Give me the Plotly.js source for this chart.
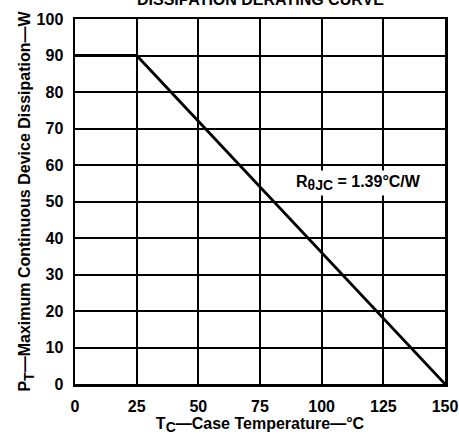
<!DOCTYPE html>
<html><head><meta charset="utf-8">
<script src="https://cdn.plot.ly/plotly-3.0.1.min.js"></script>
<style>html,body{margin:0;padding:0;background:#fff;}</style>
</head><body>
<div id="chart" style="width:459px;height:437px;"></div>
<script>
const caseTemp = [0, 25, 150];
const powerW = [90, 90, 0];
const xTicks = [0, 25, 50, 75, 100, 125, 150];
const yTicks = [0, 10, 20, 30, 40, 50, 60, 70, 80, 90, 100];
const chartTitle = "DISSIPATION DERATING CURVE";
const noteText = "R<sub><span style='font-size:14px'>θJC</span></sub> = 1.39°C/W";
const xTitle = "T<sub><span style='font-size:14px'>C</span></sub>—Case Temperature—°C";
const yTitle = "P<sub><span style='font-size:14px'>T</span></sub>—Maximum Continuous Device Dissipation—W";
const fontFam = "Liberation Sans, Arial, sans-serif";

const trace = {
  x: caseTemp, y: powerW, type: 'scatter', mode: 'lines',
  line: {color: '#000', width: 2.8}, hoverinfo: 'skip', showlegend: false
};

const layout = {
  width: 459, height: 437,
  margin: {l: 75, r: 14, t: 19, b: 53},
  paper_bgcolor: '#fff', plot_bgcolor: '#fff',
  font: {family: fontFam, color: '#000'},
  xaxis: {
    range: [0, 150], tickvals: xTicks, ticktext: xTicks.map(String),
    showgrid: true, gridcolor: '#000', gridwidth: 2,
    showline: true, linecolor: '#000', linewidth: 2.5, mirror: true,
    zeroline: false, ticks: '', ticklabelstandoff: 6,
    tickfont: {family: fontFam, size: 16, weight: 'bold'},
    title: {text: xTitle, standoff: 4,
      font: {family: fontFam, size: 16, weight: 'bold'}}
  },
  yaxis: {
    range: [0, 100], tickvals: yTicks, ticktext: yTicks.map(String),
    showgrid: true, gridcolor: '#000', gridwidth: 2,
    showline: true, linecolor: '#000', linewidth: 2.5, mirror: true,
    zeroline: false, ticks: '', ticklabelstandoff: 6,
    tickfont: {family: fontFam, size: 16, weight: 'bold'},
    title: {text: yTitle, standoff: 2,
      font: {family: fontFam, size: 16, weight: 'bold'}}
  },
  annotations: [
    {xref: 'x', yref: 'y', x: 115, y: 55, text: noteText, showarrow: false,
     bgcolor: '#fff', borderpad: 2,
     font: {family: fontFam, size: 16, weight: 'bold', color: '#000'}},
    {xref: 'paper', yref: 'paper', x: 0.5, y: 1.025, yanchor: 'bottom', xanchor: 'center',
     text: chartTitle, showarrow: false,
     font: {family: fontFam, size: 16, weight: 'bold', color: '#000'}}
  ]
};

Plotly.newPlot('chart', [trace], layout, {displayModeBar: false, staticPlot: true});
</script>
</body></html>
